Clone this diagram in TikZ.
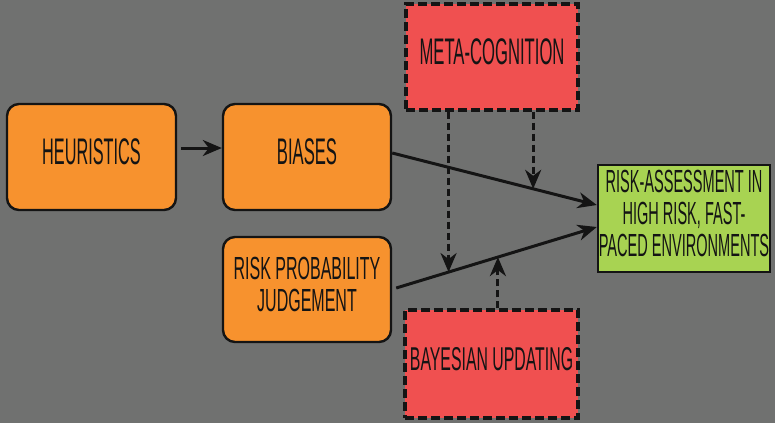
\documentclass[tikz,border=0pt]{standalone}
\usepackage{fontspec}
\setmainfont{Liberation Sans}
\usetikzlibrary{arrows.meta,calc}
\definecolor{bgc}{HTML}{707170}
\definecolor{orangebox}{HTML}{F7922E}
\definecolor{redbox}{HTML}{F05050}
\definecolor{greenbox}{HTML}{A8D352}
\definecolor{ink}{HTML}{141414}
\newcommand{\cnd}[3]{{\fontsize{#2}{#2}\selectfont\scalebox{#1}[1]{\begin{tabular}{@{}c@{}}#3\end{tabular}}}}
\tikzset{
  obox/.style={draw=ink, line width=2.4pt, fill=orangebox, rounded corners=12pt, inner sep=0pt, text=ink},
  rbox/.style={draw=ink, line width=3.4pt, dash pattern=on 9pt off 4pt, fill=redbox, inner sep=0pt, text=ink},
  gbox/.style={draw=ink, line width=2.4pt, fill=greenbox, inner sep=0pt, text=ink},
  conn/.style={draw=ink, line width=3pt, -{Stealth[length=19pt,width=16pt,inset=6pt]}},
  dconn/.style={draw=ink, line width=3pt, dash pattern=on 7pt off 4pt, -{Stealth[length=19pt,width=16pt,inset=6pt]}}
}
\begin{document}
\begin{tikzpicture}[x=1pt,y=-1pt]
\fill[bgc] (0,0) rectangle (775,423);
\useasboundingbox (0,0) rectangle (775,423);

\node[obox, minimum width=169pt, minimum height=106pt] (heur) at (91.5,157) {\raisebox{2pt}{\cnd{0.44}{37}{HEURISTICS}}};
\node[obox, minimum width=168pt, minimum height=106pt] (bias) at (307,157) {\raisebox{2pt}{\cnd{0.45}{37}{BIASES}}};
\node[obox, minimum width=168pt, minimum height=105pt] (rpj) at (307,289.5) {\cnd{0.5}{32}{\fontsize{32}{38}\selectfont RISK PROBABILITY\\ \fontsize{32}{38}\selectfont JUDGEMENT}};
\node[rbox, minimum width=172pt, minimum height=106pt] (meta) at (492,57) {\raisebox{2pt}{\cnd{0.45}{37}{META-COGNITION}}};
\node[rbox, minimum width=173pt, minimum height=108pt] (bayes) at (491.5,364) {\raisebox{4pt}{\cnd{0.48}{33}{BAYESIAN UPDATING}}};
\node[gbox, minimum width=172pt, minimum height=107pt] (ra) at (684,218.5) {\cnd{0.455}{32}{RISK-ASSESSMENT IN\\HIGH RISK, FAST-\\PACED ENVIRONMENTS}};

\draw[conn, shorten <=4pt] ([yshift=9pt]heur.east) -- ([yshift=9pt]bias.west);

\coordinate (b1) at ([yshift=4pt]bias.east);
\coordinate (e1) at ([yshift=13.5pt]ra.west);
\coordinate (b2) at ([xshift=4pt,yshift=1.5pt]rpj.east);
\coordinate (e2) at ([yshift=-8.5pt]ra.west);
\draw[conn] (b1) -- (e1);
\draw[conn] (b2) -- (e2);

\coordinate (m1) at ($(b2)!0.261!(e2)$);
\coordinate (m2) at ($(b1)!0.689!(e1)$);
\coordinate (m3) at ($(b2)!0.507!(e2)$);
\draw[dconn] (meta.south -| m1) -- (m1);
\draw[dconn] (meta.south -| m2) -- (m2);
\draw[dconn] (bayes.north -| m3) -- (m3);
\end{tikzpicture}
\end{document}
